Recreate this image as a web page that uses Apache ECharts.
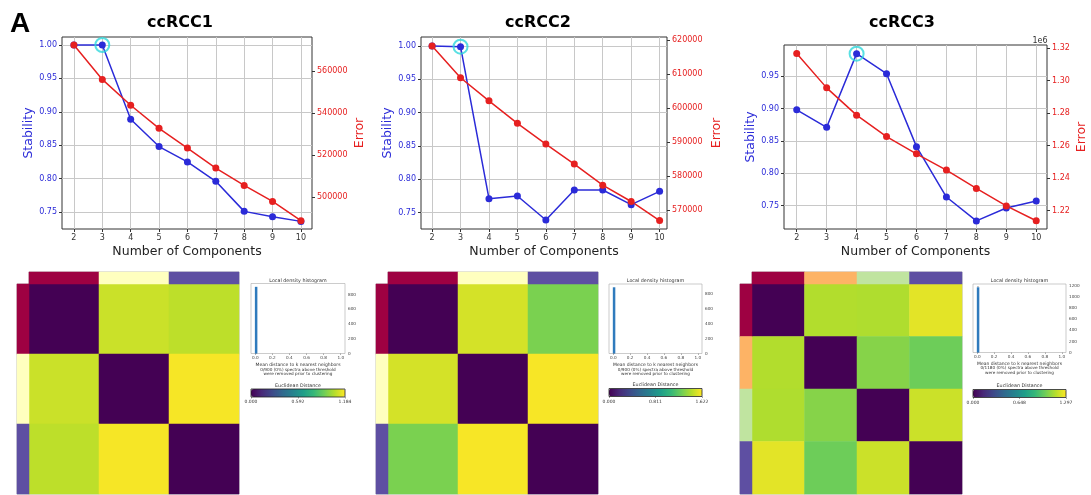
<!DOCTYPE html>
<html>
<head>
<meta charset="utf-8">
<script src="https://cdn.jsdelivr.net/npm/echarts/dist/echarts.min.js"></script>
<style>
  html, body { margin: 0; padding: 0; background: #fff; }
  #main { width: 1091px; height: 495px; }
</style>
</head>
<body>
<div id="main"></div>
<script>
// --- data ---
const components = [2, 3, 4, 5, 6, 7, 8, 9, 10];

const stability1 = [1.000, 1.000, 0.889, 0.848, 0.825, 0.796, 0.751, 0.743, 0.736];
const error1 = [572400, 556000, 543700, 532700, 523300, 513800, 505500, 497900, 488700];
const stability2 = [1.000, 0.999, 0.771, 0.775, 0.739, 0.784, 0.784, 0.762, 0.782];
const error2 = [618200, 608900, 602100, 595500, 589400, 583500, 577300, 572500, 566900];
const stability3 = [0.898, 0.871, 0.985, 0.954, 0.841, 0.763, 0.726, 0.746, 0.757];
const error3 = [1316700, 1295600, 1278800, 1265600, 1255000, 1245000, 1233700, 1222900, 1213800];
const chosenK = [3, 3, 4];

const stabTicks1 = [0.75, 0.80, 0.85, 0.90, 0.95, 1.00];
const stabTicks3 = [0.75, 0.80, 0.85, 0.90, 0.95];
const errTicks1 = [500000, 520000, 540000, 560000];
const errTicks2 = [570000, 580000, 590000, 600000, 610000, 620000];
const errTicks3 = [1220000, 1240000, 1260000, 1280000, 1300000, 1320000];

// cluster distance matrices (Euclidean)
const dist1 = [[0, 1.090, 1.067], [1.090, 0, 1.172], [1.067, 1.172, 0]];
const dist2 = [[0, 1.520, 1.293], [1.520, 0, 1.606], [1.293, 1.606, 0]];
const dist3 = [[0, 1.147, 1.141, 1.245], [1.147, 0, 1.057, 1.005], [1.141, 1.057, 0, 1.197], [1.245, 1.005, 1.197, 0]];
const cbTicks1 = [0, 0.592, 1.184];
const cbTicks2 = [0, 0.811, 1.622];
const cbTicks3 = [0, 0.648, 1.297];

// local density histograms (bin centre, count)
const hist1 = [[0.01, 903]];
const hist2 = [[0.01, 888]];
const hist3 = [[0.01, 1178]];
const histXTicks = [0, 0.2, 0.4, 0.6, 0.8, 1.0];
const histYTicks12 = [0, 200, 400, 600, 800];
const histYTicks3 = [0, 200, 400, 600, 800, 1000, 1200];

const annColors3 = ['#9e0142', '#ffffbf', '#5e4fa2'];
const annColors4 = ['#9e0142', '#fdb365', '#c0e4a0', '#5e4fa2'];
const viridis = ['#440154', '#482878', '#3e4989', '#31688e', '#26828e', '#1f9e89', '#35b779', '#6ece58', '#b5de2b', '#fde725'];

// --- option building ---
const font = 'DejaVu Sans';
const blue = '#2b2bd8', red = '#e62020';
const grids = [], xAxes = [], yAxes = [], series = [], visualMaps = [], graphics = [];

function txt(x, y, text, size, opts) {
  graphics.push({
    type: 'text', x: x, y: y, silent: true,
    style: Object.assign({ text: text, fontSize: size, fontFamily: font, fill: '#333', align: 'center', verticalAlign: 'middle' }, opts || {})
  });
}

function linePanel(o) {
  const gi = grids.push({ left: o.left, top: o.top, width: o.width, height: o.height, show: true, borderColor: '#333', borderWidth: 1 }) - 1;
  const xi = xAxes.push({
    type: 'value', gridIndex: gi, min: o.xMin, max: o.xMax,
    name: 'Number of Components', nameLocation: 'middle', nameGap: 16,
    nameTextStyle: { fontFamily: font, fontSize: 12.5, color: '#222' },
    axisLine: { show: false },
    axisTick: { show: true, length: 3, customValues: components, lineStyle: { color: '#333' } },
    axisLabel: { customValues: components, fontSize: 8, color: '#333', fontFamily: font, margin: 5 },
    splitLine: { show: true, lineStyle: { color: '#c8c8c8', width: 1 } }
  }) - 1;
  const yl = yAxes.push({
    type: 'value', gridIndex: gi, position: 'left', min: o.sMin, max: o.sMax,
    name: 'Stability', nameLocation: 'middle', nameGap: o.sGap,
    nameTextStyle: { fontFamily: font, fontSize: 12.5, color: blue },
    axisLine: { show: false },
    axisTick: { show: true, length: 3, customValues: o.sTicks, lineStyle: { color: '#333' } },
    axisLabel: { customValues: o.sTicks, fontSize: 8, color: blue, fontFamily: font, margin: 5, formatter: v => v.toFixed(2) },
    splitLine: { show: true, lineStyle: { color: '#c8c8c8', width: 1 } }
  }) - 1;
  const yr = yAxes.push({
    type: 'value', gridIndex: gi, position: 'right', min: o.eMin, max: o.eMax,
    name: 'Error', nameLocation: 'middle', nameGap: o.eGap,
    nameTextStyle: { fontFamily: font, fontSize: 12.5, color: red },
    axisLine: { show: false },
    axisTick: { show: true, length: 3, customValues: o.eTicks, lineStyle: { color: '#333' } },
    axisLabel: { customValues: o.eTicks, fontSize: 8, color: red, fontFamily: font, margin: 5, formatter: o.eFmt },
    splitLine: { show: false }
  }) - 1;
  series.push({
    type: 'line', xAxisIndex: xi, yAxisIndex: yl, data: components.map((c, i) => [c, o.stability[i]]),
    symbol: 'circle', symbolSize: 7, itemStyle: { color: blue }, lineStyle: { color: blue, width: 1.5 }
  });
  series.push({
    type: 'line', xAxisIndex: xi, yAxisIndex: yr, data: components.map((c, i) => [c, o.error[i]]),
    symbol: 'circle', symbolSize: 7, itemStyle: { color: red }, lineStyle: { color: red, width: 1.5 }
  });
  series.push({
    type: 'scatter', xAxisIndex: xi, yAxisIndex: yl, z: 5,
    data: [[o.best, o.stability[components.indexOf(o.best)]]],
    symbol: 'circle', symbolSize: 14,
    itemStyle: { color: 'rgba(0,0,0,0)', borderColor: '#2fd8dc', borderWidth: 2 }
  });
}

function catAxis(gi, n, inverse) {
  return { type: 'category', gridIndex: gi, data: Array.from({ length: n }, (_, i) => String(i)), show: false, inverse: !!inverse };
}

function heatPanel(o) {
  const n = o.dist.length;
  const frame = { show: true, borderColor: '#b8b8b8', borderWidth: 1 };
  // main matrix
  const g = grids.push(Object.assign({ left: o.left, top: o.top, width: o.size, height: o.size }, frame)) - 1;
  const x = xAxes.push(catAxis(g, n)) - 1;
  const y = yAxes.push(catAxis(g, n, true)) - 1;
  const cells = [];
  o.dist.forEach((row, i) => row.forEach((v, j) => cells.push([j, i, v])));
  const hs = series.push({ type: 'heatmap', xAxisIndex: x, yAxisIndex: y, data: cells, itemStyle: { borderWidth: 0 } }) - 1;
  // cluster annotation strips
  const gt = grids.push(Object.assign({ left: o.left, top: o.top - o.strip, width: o.size, height: o.strip }, frame)) - 1;
  const xt = xAxes.push(catAxis(gt, n)) - 1;
  const yt = yAxes.push(catAxis(gt, 1)) - 1;
  const st = series.push({ type: 'heatmap', xAxisIndex: xt, yAxisIndex: yt, data: o.dist.map((_, i) => [i, 0, i]) }) - 1;
  const gl = grids.push(Object.assign({ left: o.left - o.strip, top: o.top, width: o.strip, height: o.size }, frame)) - 1;
  const xl = xAxes.push(catAxis(gl, 1)) - 1;
  const yl = yAxes.push(catAxis(gl, n, true)) - 1;
  const sl = series.push({ type: 'heatmap', xAxisIndex: xl, yAxisIndex: yl, data: o.dist.map((_, i) => [0, i, i]) }) - 1;
  visualMaps.push({
    type: 'piecewise', show: false, seriesIndex: [st, sl],
    pieces: o.ann.map((c, i) => ({ value: i, color: c }))
  });
  // colour bar = the matrix's visualMap
  const cb = o.cb;
  visualMaps.push({
    type: 'continuous', seriesIndex: hs, min: 0, max: cb.ticks[cb.ticks.length - 1],
    show: true, orient: 'horizontal', left: cb.left, top: cb.top, itemWidth: cb.h, itemHeight: cb.w,
    padding: 0, calculable: false, hoverLink: false, text: null,
    inRange: { color: viridis }
  });
  const gc = grids.push({ left: cb.left, top: cb.top, width: cb.w, height: cb.h, show: true, borderColor: '#222', borderWidth: 0.8, z: 10 }) - 1;
  xAxes.push({
    type: 'value', gridIndex: gc, min: 0, max: cb.ticks[cb.ticks.length - 1],
    axisLine: { show: false }, splitLine: { show: false },
    axisTick: { show: true, length: 1.5, customValues: cb.ticks, lineStyle: { color: '#444', width: 0.5 } },
    axisLabel: { customValues: cb.ticks, fontSize: 4.5, color: '#333', fontFamily: font, margin: 2.5, formatter: v => v.toFixed(3) }
  });
  yAxes.push({ type: 'value', gridIndex: gc, show: false });
  txt(cb.left + cb.w / 2, cb.top - 3.5, 'Euclidean Distance', 4.8);
}

function histPanel(o) {
  const g = grids.push({ left: o.left, top: o.top, width: o.width, height: o.height, show: true, borderColor: '#aaa', borderWidth: 0.6 }) - 1;
  const x = xAxes.push({
    type: 'value', gridIndex: g, min: -0.05, max: 1.05,
    name: 'Mean distance to k nearest neighbors', nameLocation: 'middle', nameGap: 8.5,
    nameTextStyle: { fontFamily: font, fontSize: 4.5, color: '#333' },
    axisLine: { show: false }, splitLine: { show: false },
    axisTick: { show: true, length: 1.5, customValues: histXTicks, lineStyle: { color: '#666', width: 0.5 } },
    axisLabel: { customValues: histXTicks, fontSize: 4.2, color: '#444', fontFamily: font, margin: 2.5, formatter: v => v.toFixed(1) }
  }) - 1;
  const y = yAxes.push({
    type: 'value', gridIndex: g, position: 'right', min: 0, max: o.yMax,
    axisLine: { show: false }, splitLine: { show: false },
    axisTick: { show: true, length: 1.5, customValues: o.yTicks, lineStyle: { color: '#666', width: 0.5 } },
    axisLabel: { customValues: o.yTicks, fontSize: 4.2, color: '#444', fontFamily: font, margin: 3, formatter: v => String(v) }
  }) - 1;
  series.push({ type: 'bar', xAxisIndex: x, yAxisIndex: y, data: o.data, barWidth: 2.5, itemStyle: { color: '#2f7bbd' } });
  const cx = o.left + o.width / 2;
  txt(cx, o.top - 3, 'Local density histogram', 4.8);
  txt(cx, o.noteY, o.note, 4.2, { lineHeight: 4.6 });
}

// panel A: ccRCC1 / ccRCC2 / ccRCC3
linePanel({ left: 62, top: 37, width: 250, height: 192, xMin: 1.58, xMax: 10.39,
  sMin: 0.7246, sMax: 1.012, sTicks: stabTicks1, eMin: 484760, eMax: 576190, eTicks: errTicks1,
  eFmt: v => String(v), stability: stability1, error: error1, best: chosenK[0], sGap: 27, eGap: 41 });
linePanel({ left: 421, top: 37, width: 246, height: 192, xMin: 1.61, xMax: 10.26,
  sMin: 0.7255, sMax: 1.0135, sTicks: stabTicks1, eMin: 564410, eMax: 620880, eTicks: errTicks2,
  eFmt: v => String(v), stability: stability2, error: error2, best: chosenK[1], sGap: 27, eGap: 43 });
linePanel({ left: 784, top: 45, width: 263, height: 184, xMin: 1.575, xMax: 10.36,
  sMin: 0.7135, sMax: 0.9984, sTicks: stabTicks3, eMin: 1208700, eMax: 1322000, eTicks: errTicks3,
  eFmt: v => (v / 1e6).toFixed(2), stability: stability3, error: error3, best: chosenK[2], sGap: 27, eGap: 28 });

heatPanel({ left: 29, top: 284, size: 210, strip: 12, dist: dist1, ann: annColors3,
  cb: { left: 251, top: 389, w: 94, h: 8, ticks: cbTicks1 } });
heatPanel({ left: 388, top: 284, size: 210, strip: 12, dist: dist2, ann: annColors3,
  cb: { left: 609, top: 388.5, w: 93, h: 8, ticks: cbTicks2 } });
heatPanel({ left: 752, top: 284, size: 210, strip: 12, dist: dist3, ann: annColors4,
  cb: { left: 973, top: 389.5, w: 93, h: 8, ticks: cbTicks3 } });

histPanel({ left: 251, top: 283.5, width: 94, height: 70, yMax: 948, yTicks: histYTicks12, data: hist1,
  noteY: 372, note: '0/900 (0%) spectra above threshold\nwere removed prior to clustering' });
histPanel({ left: 609, top: 284, width: 93, height: 69.5, yMax: 932, yTicks: histYTicks12, data: hist2,
  noteY: 372, note: '0/900 (0%) spectra above threshold\nwere removed prior to clustering' });
histPanel({ left: 973, top: 284, width: 93, height: 68.5, yMax: 1237, yTicks: histYTicks3, data: hist3,
  noteY: 370.5, note: '0/1180 (0%) spectra above threshold\nwere removed prior to clustering' });

// titles
txt(20, 24, 'A', 28, { fontFamily: 'Liberation Sans', fontWeight: 'bold', fill: '#000' });
txt(180, 23, 'ccRCC1', 16, { fontWeight: 'bold', fill: '#000' });
txt(538, 22.5, 'ccRCC2', 16, { fontWeight: 'bold', fill: '#000' });
txt(902, 23, 'ccRCC3', 16, { fontWeight: 'bold', fill: '#000' });
txt(1040, 41, '1e6', 8, { fill: '#333' });

const chart = echarts.init(document.getElementById('main'));
chart.setOption({
  animation: false,
  backgroundColor: '#fff',
  grid: grids,
  xAxis: xAxes,
  yAxis: yAxes,
  visualMap: visualMaps,
  series: series,
  graphic: graphics
});
</script>
</body>
</html>
